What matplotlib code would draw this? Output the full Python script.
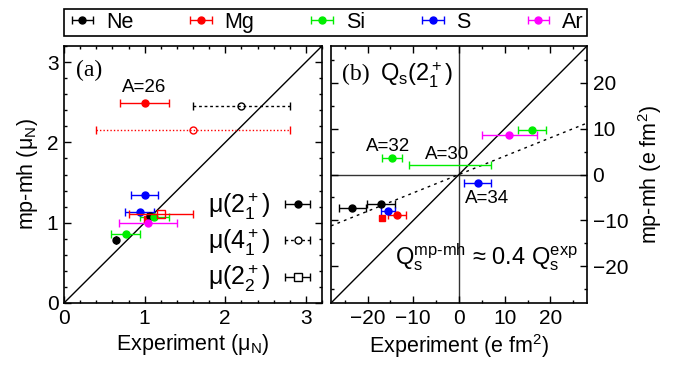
import numpy as np
import matplotlib
matplotlib.use("Agg")
import matplotlib.pyplot as plt
from matplotlib.ticker import MultipleLocator

plt.rcParams['font.family'] = ['Liberation Sans', 'DejaVu Sans']
plt.rcParams['mathtext.fontset'] = 'custom'
plt.rcParams['mathtext.rm'] = 'Liberation Sans'
plt.rcParams['mathtext.it'] = 'Liberation Sans:italic'
plt.rcParams['mathtext.bf'] = 'Liberation Sans:bold'

# ---------------- data ----------------
elements = ['Ne', 'Mg', 'Si', 'S', 'Ar']
colors = {'Ne': '#000000', 'Mg': '#ff0000', 'Si': '#00ee00', 'S': '#0000ff', 'Ar': '#ff00ff'}

# (a) magnetic moments mu(2+1): experiment, mp-mh, exp error
mu_x = {'Ne': [0.65, 1.07], 'Mg': [1.00], 'Si': [0.765, 1.12], 'S': [1.00, 0.94], 'Ar': [1.045]}
mu_y = {'Ne': [0.78, 1.08], 'Mg': [2.49], 'Si': [0.86, 1.075], 'S': [1.35, 1.135], 'Ar': [1.00]}
mu_e = {'Ne': [0.0, 0.04], 'Mg': [0.30], 'Si': [0.18, 0.18], 'S': [0.17, 0.18], 'Ar': [0.36]}
mu_mgsq_x, mu_mgsq_y = [1.03], [1.05]
# mu(4+1)
mu4_x = {'Ne': [2.20], 'Mg': [1.60]}
mu4_y = {'Ne': [2.45], 'Mg': [2.16]}
mu4_e = {'Ne': [0.60], 'Mg': [1.20]}
# mu(2+2)
mu22_x, mu22_y, mu22_e = [1.20], [1.11], [0.40]

# (b) quadrupole moments Qs(2+1)
q_x = {'Ne': [-23.3, -17.1], 'Mg': [-13.6], 'Si': [-14.7, 16.0], 'S': [-15.5, 4.1], 'Ar': [11.0]}
q_y = {'Ne': [-7.2, -6.5], 'Mg': [-8.8], 'Si': [3.6, 9.7], 'S': [-7.9, -1.8], 'Ar': [8.7]}
q_e = {'Ne': [3.0, 3.0], 'Mg': [2.0], 'Si': [2.2, 3.0], 'S': [1.6, 3.0], 'Ar': [6.0]}
q_mgsq_x, q_mgsq_y = [-16.8], [-9.5]
q_si30_x, q_si30_y, q_si30_e = [-2.0], [2.0], [9.0]
q_ratio = 0.4

# ---------------- figure ----------------
fig = plt.figure(figsize=(6.73, 3.67), dpi=100)
ax1 = fig.add_axes([64/673, 64/367, 258/673, 257/367])
ax2 = fig.add_axes([331/673, 64/367, 256/673, 257/367])

FS = 15
LFS = 15.5
ms = 5.0
cs = 2.8
elw = 1.0

def style(ax):
    ax.tick_params(which='both', direction='in', top=True, right=True, labelsize=FS, width=1.0)
    ax.tick_params(which='major', length=5, pad=4)
    ax.tick_params(which='minor', length=2.5)
    for s in ax.spines.values():
        s.set_linewidth(1.2)

# ---- panel (a)
ax1.set_xlim(0, 3.2)
ax1.set_ylim(0, 3.2)
ax1.plot([0, 3.2], [0, 3.2], color='black', lw=1.0, zorder=1)

handles = {}
for el in elements:
    h = ax1.errorbar(mu_x[el], mu_y[el], xerr=mu_e[el], fmt='o', color=colors[el], ms=ms,
                     capsize=cs, elinewidth=elw, capthick=elw, zorder=3, label=el)
    handles[el] = h
ax1.plot(mu_mgsq_x, mu_mgsq_y, 's', color=colors['Mg'], ms=ms, zorder=3)

e4 = ax1.errorbar(mu4_x['Ne'], mu4_y['Ne'], xerr=mu4_e['Ne'], fmt='o', mfc='none', mec='black',
                  color='black', ms=ms, capsize=cs, elinewidth=elw, capthick=elw, zorder=3)
e4[2][0].set_linestyle((0, (2, 2)))
e4m = ax1.errorbar(mu4_x['Mg'], mu4_y['Mg'], xerr=mu4_e['Mg'], fmt='o', mfc='none', mec=colors['Mg'],
                   color=colors['Mg'], ms=ms, capsize=cs, elinewidth=elw, capthick=elw, zorder=3)
e4m[2][0].set_linestyle((0, (1, 1.5)))
ax1.errorbar(mu22_x, mu22_y, xerr=mu22_e, fmt='s', mfc='none', mec=colors['Mg'], mew=1.0,
             color=colors['Mg'], ms=ms + 1, capsize=cs, elinewidth=elw, capthick=elw, zorder=4)

# state legend inside (a)
hl1 = ax1.errorbar([np.nan], [np.nan], xerr=[0.1], fmt='o', color='black', ms=ms,
                   capsize=cs, elinewidth=elw, capthick=elw)
hl2 = ax1.errorbar([np.nan], [np.nan], xerr=[0.1], fmt='o', color='black', mfc='white', ms=ms,
                   capsize=cs, elinewidth=elw, capthick=elw)
hl2[2][0].set_linestyle((0, (2, 2)))
hl3 = ax1.errorbar([np.nan], [np.nan], xerr=[0.1], fmt='s', color='black', mfc='white', ms=ms + 1,
                   capsize=cs, elinewidth=elw, capthick=elw)
leg_in = ax1.legend([hl1, hl2, hl3],
                    [r'μ(2$_1^+$)', r'μ(4$_1^+$)', r'μ(2$_2^+$)'],
                    loc='lower right', markerfirst=False, frameon=False, fontsize=18,
                    handlelength=1.25, handletextpad=0.45, labelspacing=0.2,
                    borderaxespad=0.2, borderpad=0.15)

ax1.xaxis.set_major_locator(MultipleLocator(1))
ax1.xaxis.set_minor_locator(MultipleLocator(0.2))
ax1.yaxis.set_major_locator(MultipleLocator(1))
ax1.yaxis.set_minor_locator(MultipleLocator(0.2))
style(ax1)
ax1.set_xlabel(r'Experiment (μ$_\mathrm{N}$)', fontsize=LFS, labelpad=3)
ax1.set_ylabel(r'mp-mh (μ$_\mathrm{N}$)', fontsize=LFS, labelpad=5)

ax1.text(0.097, 0.905, '(a)', transform=ax1.transAxes, fontsize=17,
         family='Liberation Serif', ha='center', va='center')
ax1.text(1.0, 2.68, 'A=26', fontsize=13.5, ha='center', va='center')

# ---- panel (b)
lim = 28
ax2.set_xlim(-lim, lim)
ax2.set_ylim(-lim, lim)
ax2.axhline(0, color='#333333', lw=1.0, zorder=1)
ax2.axvline(0, color='#333333', lw=1.0, zorder=1)
xx = np.array([-lim, lim])
ax2.plot(xx, xx, color='black', lw=1.0, zorder=1)
ax2.plot(xx, q_ratio * xx, color='black', lw=1.0, ls=(0, (2, 3)), zorder=1)

for el in elements:
    ax2.errorbar(q_x[el], q_y[el], xerr=q_e[el], fmt='o', color=colors[el], ms=ms,
                 capsize=cs, elinewidth=elw, capthick=elw, zorder=3)
ax2.plot(q_mgsq_x, q_mgsq_y, 's', color=colors['Mg'], ms=ms, zorder=3)
ax2.errorbar(q_si30_x, q_si30_y, xerr=q_si30_e, fmt='none', ecolor=colors['Si'],
             capsize=cs, elinewidth=elw, capthick=elw, zorder=3)

ax2.xaxis.set_major_locator(MultipleLocator(10))
ax2.xaxis.set_minor_locator(MultipleLocator(5))
ax2.yaxis.set_major_locator(MultipleLocator(10))
ax2.yaxis.set_minor_locator(MultipleLocator(5))
style(ax2)
ax2.tick_params(labelleft=False, labelright=True)
ax2.yaxis.set_label_position('right')
ax2.set_xlabel(r'Experiment (e fm$^2$)', fontsize=LFS, labelpad=3)
ax2.set_ylabel(r'mp-mh (e fm$^2$)', fontsize=LFS, labelpad=6)

ax2.text(0.098, 0.89, '(b)', transform=ax2.transAxes, fontsize=17,
         family='Liberation Serif', ha='center', va='center')
ax2.text(0.19, 0.885, r'Q$_\mathrm{s}$(2$_1^+$)', transform=ax2.transAxes, fontsize=17,
         ha='left', va='center')
ax2.text(-15.6, 6.2, 'A=32', fontsize=13.5, ha='center', va='center')
ax2.text(-2.6, 4.3, 'A=30', fontsize=13.5, ha='center', va='center')
ax2.text(6.2, -5.2, 'A=34', fontsize=13.5, ha='center', va='center')
ax2.text(6.0, -18.0, r'Q$_\mathrm{s}^\mathrm{mp\text{-}mh}$ ≈ 0.4 Q$_\mathrm{s}^\mathrm{exp}$',
         fontsize=17, ha='center', va='center')

# ---- element legend on top
fig.legend([handles[el] for el in elements], elements, ncol=5, loc='lower left',
           bbox_to_anchor=(64/673, 1 - 36/367, 523/673, 27/367), mode='expand',
           borderaxespad=0, fancybox=False, edgecolor='black', framealpha=1,
           fontsize=15.5, handlelength=1.4, handletextpad=0.4, borderpad=0.15)
fig.legends[0].get_frame().set_linewidth(1.2)

fig.savefig('out.png', dpi=100)
